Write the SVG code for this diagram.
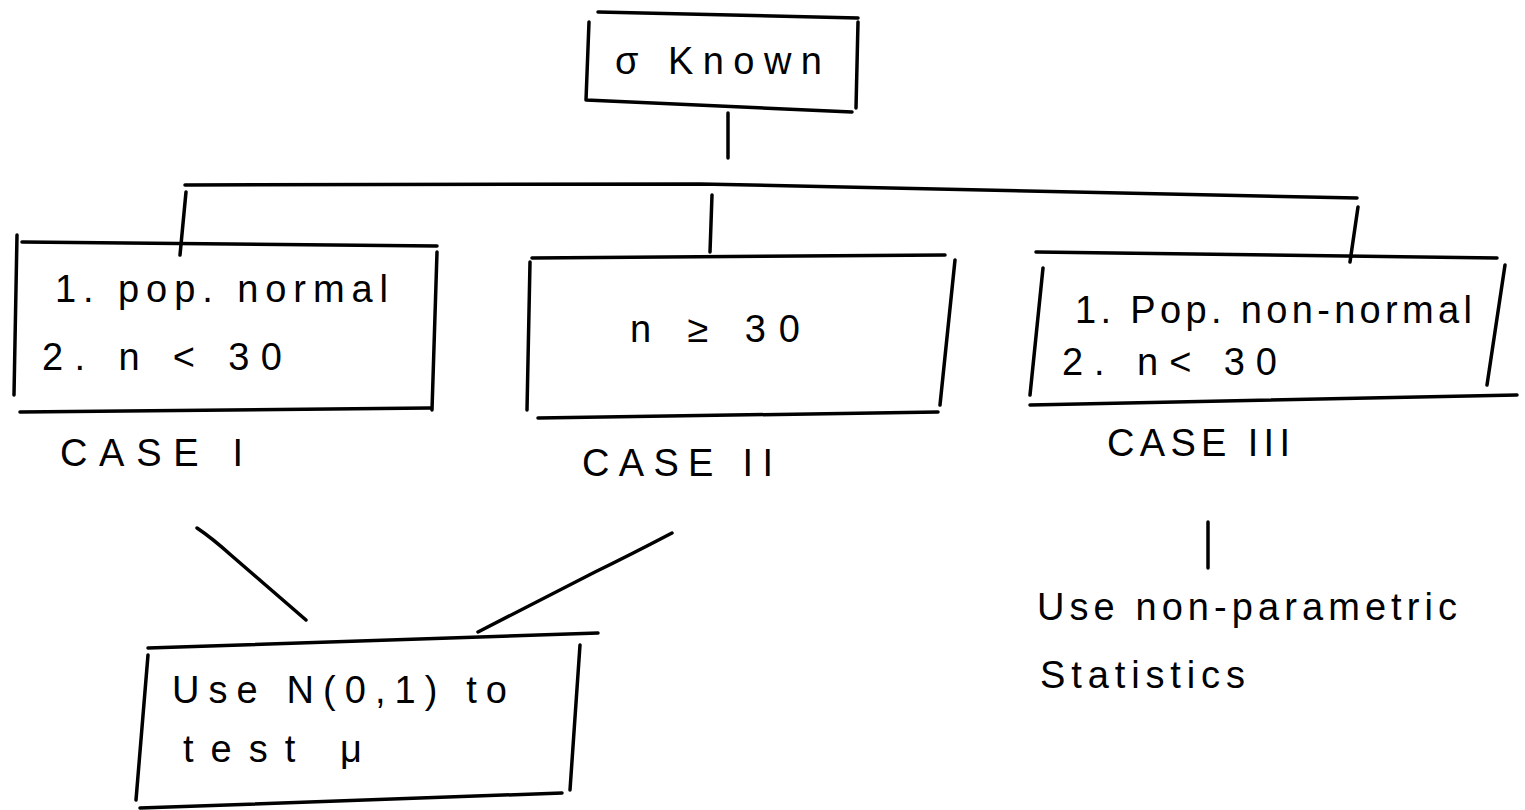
<svg xmlns="http://www.w3.org/2000/svg" width="1525" height="810" viewBox="0 0 1525 810">
<style>
.s{fill:none;stroke:#000;stroke-width:3.5;stroke-linecap:round;stroke-linejoin:round}
.t{font-family:"Liberation Sans",Arial,sans-serif;font-size:38px;fill:#000}
</style>
<rect width="1525" height="810" fill="#fff"/>
<g id="connectors">
<path class="s" d="M728,113 L728,158"/>
<path class="s" d="M185,185 L700,184 L1357,198"/>
<path class="s" d="M186,192 L180,255"/>
<path class="s" d="M712,195 L710,252"/>
<path class="s" d="M1358,207 L1350,262"/>
<path class="s" d="M197,528 Q212,538 232,556 L306,620"/>
<path class="s" d="M672,533 Q630,555 595,572 L478,632"/>
<path class="s" d="M1208,522 L1208,568"/>
</g>
<g id="node-sigma">
<path class="s" d="M598,12 L858,18 M589,22 L586,100 M586,100 L852,112 M858,22 L856,108"/>
<text class="t" x="615" y="74" textLength="207" lengthAdjust="spacing">σ Known</text>
</g>
<g id="node-case1">
<path class="s" d="M22,242 L437,246 M17,235 L14,395 M437,252 L432,410 M20,412 L430,408"/>
<text class="t" x="55" y="302" textLength="333" lengthAdjust="spacing">1. pop. normal</text>
<text class="t" x="42" y="370" textLength="240" lengthAdjust="spacing">2. n &lt; 30</text>
<text class="t" x="60" y="466" textLength="183" lengthAdjust="spacing">CASE I</text>
</g>
<g id="node-case2">
<path class="s" d="M532,258 L945,255 M530,262 L527,410 M955,260 L940,405 M538,418 L938,412"/>
<text class="t" x="630" y="342" textLength="170" lengthAdjust="spacing">n ≥ 30</text>
<text class="t" x="582" y="476" textLength="191" lengthAdjust="spacing">CASE II</text>
</g>
<g id="node-case3">
<path class="s" d="M1036,252 L1497,258 M1043,268 L1030,395 M1505,265 L1487,385 M1030,405 L1517,395"/>
<text class="t" x="1075" y="323" textLength="397" lengthAdjust="spacing">1. Pop. non-normal</text>
<text class="t" x="1062" y="375" textLength="215" lengthAdjust="spacing">2. n&lt; 30</text>
<text class="t" x="1107" y="456" textLength="183" lengthAdjust="spacing">CASE III</text>
</g>
<g id="node-normal">
<path class="s" d="M148,648 L598,633 M148,655 L136,800 M580,645 L570,790 M140,808 L562,793"/>
<text class="t" x="172" y="703" textLength="335" lengthAdjust="spacing">Use N(0,1) to</text>
<text class="t" x="183" y="762" textLength="179" lengthAdjust="spacing">test μ</text>
</g>
<g id="node-nonparam">
<text class="t" x="1037" y="620" textLength="420" lengthAdjust="spacing">Use non-parametric</text>
<text class="t" x="1040" y="688" textLength="205" lengthAdjust="spacing">Statistics</text>
</g>
</svg>
